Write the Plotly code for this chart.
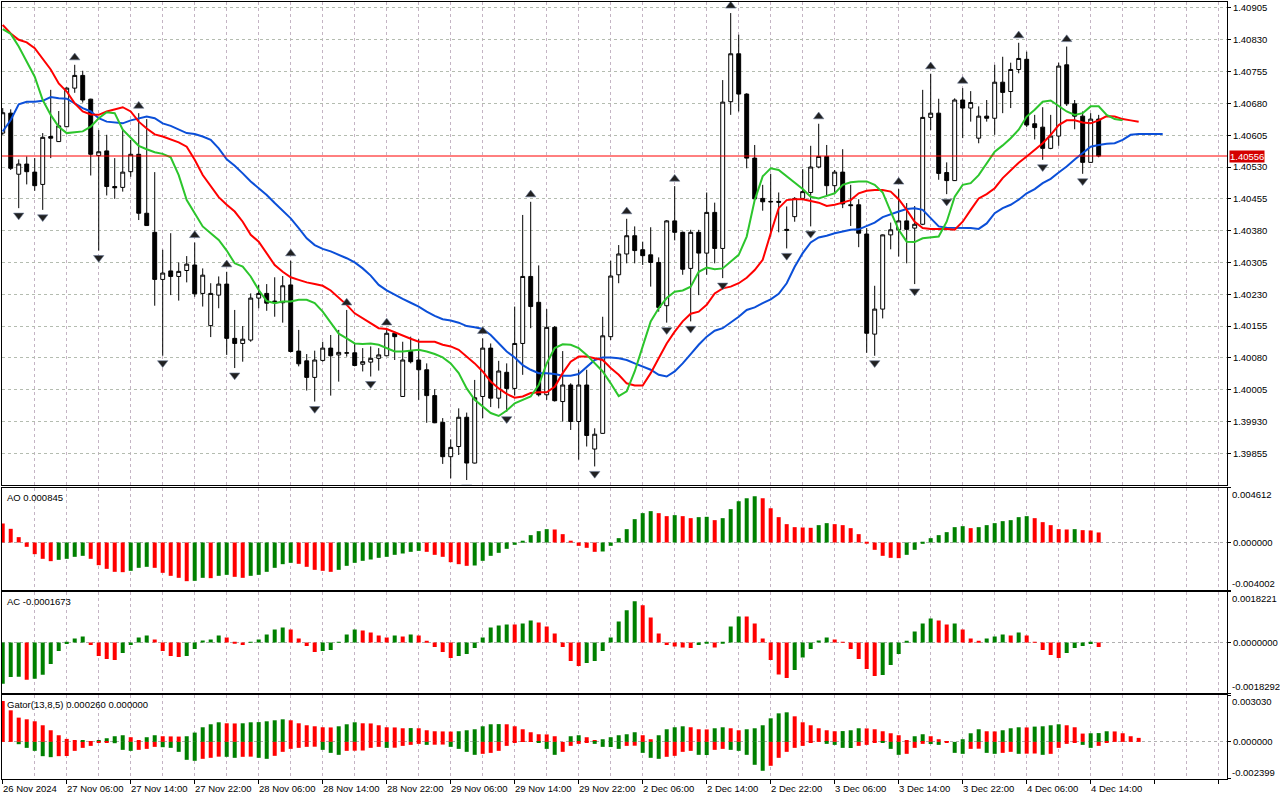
import plotly.graph_objects as go
from plotly.subplots import make_subplots

# hourly candles, 26 Nov 22:00 .. 4 Dec 15:00
opens = [
    1.40610, 1.40657, 1.40513, 1.40537, 1.40518, 1.40489, 1.40602, 1.40590, 1.40625, 1.40716,
    1.40746, 1.40690, 1.40557, 1.40568, 1.40484, 1.40482, 1.40519, 1.40560, 1.40421, 1.40376,
    1.40265, 1.40285, 1.40272, 1.40286, 1.40299, 1.40232, 1.40156, 1.40228, 1.40254, 1.40126,
    1.40114, 1.40122, 1.40221, 1.40232, 1.40214, 1.40210, 1.40252, 1.40096, 1.40073, 1.40034,
    1.40074, 1.40103, 1.40087, 1.40091, 1.40092, 1.40065, 1.40070, 1.40079, 1.40085, 1.40138,
    1.39989, 1.40095, 1.40075, 1.40052, 1.39991, 1.39928, 1.39847, 1.39871, 1.39940, 1.39832,
    1.39989, 1.40103, 1.39985, 1.40046, 1.40008, 1.40114, 1.40272, 1.40211, 1.39993, 1.40152,
    1.39977, 1.40016, 1.39930, 1.40016, 1.39865, 1.39902, 1.40130, 1.40276, 1.40325, 1.40368,
    1.40335, 1.40323, 1.40305, 1.40203, 1.40403, 1.40376, 1.40291, 1.40376, 1.40327, 1.40423,
    1.40338, 1.40684, 1.40797, 1.40702, 1.40551, 1.40456, 1.40449, 1.40449, 1.40383, 1.40413,
    1.40456, 1.40470, 1.40530, 1.40555, 1.40486, 1.40518, 1.40441, 1.40441, 1.40372, 1.40136,
    1.40195, 1.40370, 1.40382, 1.40403, 1.40386, 1.40395, 1.40647, 1.40657, 1.40517, 1.40498,
    1.40688, 1.40669, 1.40598, 1.40650, 1.40645, 1.40730, 1.40708, 1.40760, 1.40784, 1.40632,
    1.40624, 1.40574, 1.40603, 1.40771, 1.40679, 1.40650, 1.40541, 1.40643,
]
highs = [
    1.40669, 1.40666, 1.40548, 1.40555, 1.40551, 1.40610, 1.40712, 1.40662, 1.40718, 1.40771,
    1.40757, 1.40691, 1.40617, 1.40606, 1.40551, 1.40620, 1.40594, 1.40657, 1.40643, 1.40518,
    1.40335, 1.40374, 1.40305, 1.40320, 1.40352, 1.40291, 1.40256, 1.40272, 1.40283, 1.40193,
    1.40155, 1.40232, 1.40252, 1.40254, 1.40270, 1.40273, 1.40309, 1.40146, 1.40089, 1.40097,
    1.40118, 1.40134, 1.40146, 1.40193, 1.40113, 1.40103, 1.40107, 1.40103, 1.40146, 1.40142,
    1.40118, 1.40130, 1.40124, 1.40067, 1.40006, 1.39938, 1.39888, 1.39961, 1.39951, 1.40028,
    1.40126, 1.40114, 1.40073, 1.40067, 1.40201, 1.40417, 1.40448, 1.40298, 1.40195, 1.40155,
    1.40096, 1.40020, 1.40052, 1.40052, 1.39914, 1.40177, 1.40309, 1.40346, 1.40408, 1.40390,
    1.40354, 1.40388, 1.40317, 1.40405, 1.40485, 1.40378, 1.40382, 1.40382, 1.40470, 1.40446,
    1.40735, 1.40893, 1.40842, 1.40704, 1.40582, 1.40488, 1.40514, 1.40470, 1.40437, 1.40459,
    1.40525, 1.40580, 1.40632, 1.40582, 1.40523, 1.40572, 1.40488, 1.40454, 1.40386, 1.40250,
    1.40371, 1.40399, 1.40478, 1.40445, 1.40438, 1.40712, 1.40750, 1.40691, 1.40541, 1.40692,
    1.40716, 1.40709, 1.40673, 1.40688, 1.40771, 1.40790, 1.40776, 1.40823, 1.40802, 1.40653,
    1.40671, 1.40653, 1.40776, 1.40814, 1.40688, 1.40661, 1.40657, 1.40653,
]
lows = [
    1.40606, 1.40523, 1.40433, 1.40489, 1.40474, 1.40429, 1.40551, 1.40589, 1.40624, 1.40705,
    1.40682, 1.40510, 1.40333, 1.40463, 1.40455, 1.40472, 1.40507, 1.40405, 1.40392, 1.40203,
    1.40085, 1.40228, 1.40215, 1.40258, 1.40224, 1.40201, 1.40129, 1.40197, 1.40087, 1.40056,
    1.40071, 1.40118, 1.40197, 1.40191, 1.40177, 1.40163, 1.40093, 1.40060, 1.40003, 1.39977,
    1.40071, 1.39991, 1.40024, 1.40083, 1.40060, 1.40048, 1.40036, 1.40050, 1.40084, 1.40075,
    1.39988, 1.40067, 1.39981, 1.39927, 1.39926, 1.39830, 1.39796, 1.39851, 1.39792, 1.39831,
    1.39938, 1.39964, 1.39961, 1.39953, 1.39991, 1.40040, 1.40150, 1.39989, 1.39981, 1.39977,
    1.39930, 1.39910, 1.39840, 1.39871, 1.39824, 1.39901, 1.40122, 1.40256, 1.40303, 1.40303,
    1.40299, 1.40248, 1.40189, 1.40163, 1.40357, 1.40276, 1.40166, 1.40228, 1.40276, 1.40303,
    1.40268, 1.40653, 1.40661, 1.40527, 1.40452, 1.40427, 1.40366, 1.40376, 1.40338, 1.40401,
    1.40452, 1.40390, 1.40527, 1.40464, 1.40468, 1.40433, 1.40391, 1.40341, 1.40092, 1.40085,
    1.40173, 1.40336, 1.40319, 1.40303, 1.40254, 1.40393, 1.40617, 1.40500, 1.40466, 1.40497,
    1.40598, 1.40637, 1.40586, 1.40637, 1.40606, 1.40657, 1.40669, 1.40751, 1.40624, 1.40595,
    1.40547, 1.40572, 1.40580, 1.40674, 1.40619, 1.40514, 1.40540, 1.40553,
]
closes = [
    1.40658, 1.40527, 1.40537, 1.40519, 1.40486, 1.40600, 1.40598, 1.40627, 1.40716, 1.40746,
    1.40688, 1.40560, 1.40566, 1.40484, 1.40481, 1.40518, 1.40560, 1.40421, 1.40392, 1.40265,
    1.40280, 1.40272, 1.40284, 1.40301, 1.40231, 1.40275, 1.40232, 1.40254, 1.40126, 1.40114,
    1.40124, 1.40221, 1.40232, 1.40209, 1.40210, 1.40250, 1.40095, 1.40066, 1.40034, 1.40075,
    1.40103, 1.40085, 1.40093, 1.40092, 1.40062, 1.40071, 1.40079, 1.40087, 1.40138, 1.40130,
    1.40075, 1.40071, 1.40052, 1.39991, 1.39927, 1.39847, 1.39869, 1.39940, 1.39832, 1.39986,
    1.40103, 1.39985, 1.40049, 1.40008, 1.40114, 1.40272, 1.40201, 1.39993, 1.40152, 1.39979,
    1.40016, 1.39930, 1.40016, 1.39897, 1.39900, 1.40132, 1.40273, 1.40325, 1.40368, 1.40333,
    1.40321, 1.40305, 1.40199, 1.40403, 1.40376, 1.40289, 1.40376, 1.40327, 1.40423, 1.40338,
    1.40683, 1.40797, 1.40702, 1.40551, 1.40455, 1.40448, 1.40448, 1.40447, 1.40381, 1.40456,
    1.40472, 1.40530, 1.40555, 1.40486, 1.40518, 1.40443, 1.40439, 1.40374, 1.40138, 1.40195,
    1.40370, 1.40382, 1.40403, 1.40383, 1.40395, 1.40647, 1.40657, 1.40515, 1.40498, 1.40688,
    1.40669, 1.40682, 1.40650, 1.40645, 1.40730, 1.40706, 1.40760, 1.40786, 1.40629, 1.40623,
    1.40574, 1.40603, 1.40768, 1.40679, 1.40650, 1.40541, 1.40643, 1.40556,
]

# Alligator lines (already shifted forward 8 / 5 / 3 bars)
jaw = [
    1.40614, 1.40641, 1.40678, 1.40684, 1.40684, 1.40686, 1.40695, 1.40692, 1.40691, 1.40680,
    1.40669, 1.40661, 1.40645, 1.40637, 1.40635, 1.40633, 1.40640, 1.40645, 1.40649, 1.40645,
    1.40633, 1.40627, 1.40618, 1.40610, 1.40608, 1.40602, 1.40594, 1.40574, 1.40548, 1.40533,
    1.40515, 1.40496, 1.40480, 1.40464, 1.40445, 1.40427, 1.40409, 1.40386, 1.40362, 1.40346,
    1.40337, 1.40331, 1.40323, 1.40315, 1.40305, 1.40291, 1.40274, 1.40252, 1.40239, 1.40228,
    1.40219, 1.40210, 1.40201, 1.40189, 1.40179, 1.40171, 1.40168, 1.40163, 1.40155, 1.40152,
    1.40148, 1.40134, 1.40114, 1.40095, 1.40081, 1.40063, 1.40052, 1.40044, 1.40044, 1.40042,
    1.40038, 1.40038, 1.40042, 1.40059, 1.40075, 1.40081, 1.40081, 1.40079, 1.40075, 1.40067,
    1.40059, 1.40052, 1.40040, 1.40036, 1.40048, 1.40067, 1.40089, 1.40111, 1.40130, 1.40144,
    1.40150, 1.40163, 1.40177, 1.40193, 1.40199, 1.40209, 1.40218, 1.40231, 1.40256, 1.40295,
    1.40327, 1.40352, 1.40364, 1.40368, 1.40374, 1.40378, 1.40382, 1.40383, 1.40391, 1.40399,
    1.40412, 1.40419, 1.40425, 1.40431, 1.40433, 1.40429, 1.40409, 1.40390, 1.40387, 1.40387,
    1.40386, 1.40386, 1.40384, 1.40397, 1.40421, 1.40433, 1.40441, 1.40453, 1.40468, 1.40478,
    1.40492, 1.40502, 1.40517, 1.40531, 1.40548, 1.40564, 1.40578, 1.40582, 1.40585, 1.40586,
    1.40594, 1.40606, 1.40608, 1.40608, 1.40608, 1.40608,
]
teeth = [
    1.40865, 1.40845, 1.40830, 1.40824, 1.40810, 1.40786, 1.40760, 1.40727, 1.40708, 1.40680,
    1.40661, 1.40654, 1.40653, 1.40661, 1.40666, 1.40671, 1.40661, 1.40637, 1.40621, 1.40607,
    1.40602, 1.40595, 1.40588, 1.40578, 1.40547, 1.40511, 1.40484, 1.40459, 1.40441, 1.40425,
    1.40401, 1.40370, 1.40354, 1.40327, 1.40299, 1.40283, 1.40270, 1.40264, 1.40258, 1.40254,
    1.40250, 1.40239, 1.40223, 1.40205, 1.40185, 1.40173, 1.40162, 1.40150, 1.40148, 1.40140,
    1.40133, 1.40125, 1.40118, 1.40118, 1.40118, 1.40111, 1.40107, 1.40099, 1.40083, 1.40067,
    1.40048, 1.40024, 1.40008, 1.39995, 1.39986, 1.39989, 1.39997, 1.39999, 1.39999, 1.40012,
    1.40044, 1.40071, 1.40083, 1.40083, 1.40079, 1.40075, 1.40056, 1.40040, 1.40020, 1.40015,
    1.40015, 1.40044, 1.40079, 1.40114, 1.40142, 1.40166, 1.40184, 1.40189, 1.40205, 1.40232,
    1.40244, 1.40248, 1.40256, 1.40269, 1.40287, 1.40311, 1.40374, 1.40433, 1.40452, 1.40454,
    1.40454, 1.40450, 1.40446, 1.40438, 1.40441, 1.40446, 1.40452, 1.40468, 1.40474, 1.40476,
    1.40476, 1.40472, 1.40454, 1.40429, 1.40401, 1.40386, 1.40384, 1.40384, 1.40384, 1.40382,
    1.40401, 1.40429, 1.40456, 1.40466, 1.40480, 1.40504, 1.40523, 1.40540, 1.40555, 1.40570,
    1.40586, 1.40606, 1.40629, 1.40640, 1.40640, 1.40635, 1.40633, 1.40640, 1.40650, 1.40649,
    1.40643, 1.40640, 1.40637,
]
lips = [
    1.40855, 1.40844, 1.40814, 1.40779, 1.40743, 1.40688, 1.40653, 1.40625, 1.40610, 1.40612,
    1.40614, 1.40625, 1.40645, 1.40659, 1.40657, 1.40618, 1.40598, 1.40580, 1.40572, 1.40565,
    1.40561, 1.40553, 1.40511, 1.40452, 1.40421, 1.40390, 1.40374, 1.40358, 1.40333, 1.40303,
    1.40295, 1.40272, 1.40240, 1.40214, 1.40209, 1.40213, 1.40213, 1.40217, 1.40217, 1.40209,
    1.40189, 1.40162, 1.40137, 1.40126, 1.40114, 1.40113, 1.40114, 1.40111, 1.40103, 1.40095,
    1.40095, 1.40097, 1.40099, 1.40095, 1.40089, 1.40081, 1.40067, 1.40044, 1.40008, 1.39981,
    1.39965, 1.39950, 1.39943, 1.39956, 1.39973, 1.39981, 1.39989, 1.40016, 1.40067, 1.40103,
    1.40112, 1.40111, 1.40103, 1.40087, 1.40067, 1.40048, 1.40020, 1.39990, 1.40001, 1.40048,
    1.40107, 1.40166, 1.40197, 1.40221, 1.40236, 1.40239, 1.40248, 1.40283, 1.40293, 1.40289,
    1.40291, 1.40307, 1.40323, 1.40366, 1.40452, 1.40508, 1.40527, 1.40523, 1.40508, 1.40492,
    1.40478, 1.40460, 1.40456, 1.40462, 1.40468, 1.40488, 1.40494, 1.40496, 1.40496, 1.40488,
    1.40470, 1.40425, 1.40382, 1.40354, 1.40353, 1.40362, 1.40364, 1.40366, 1.40401, 1.40460,
    1.40488, 1.40492, 1.40511, 1.40540, 1.40566, 1.40581, 1.40598, 1.40618, 1.40649, 1.40665,
    1.40684, 1.40687, 1.40674, 1.40661, 1.40653, 1.40657, 1.40673, 1.40673, 1.40653, 1.40643,
    1.40640,
]

# bars carrying a fractal
fractal_up = [9, 17, 24, 28, 36, 43, 48, 60, 66, 78, 84, 91, 102, 112, 116, 120, 127, 133]
fractal_down = [2, 5, 12, 20, 29, 39, 46, 58, 63, 74, 83, 86, 90, 98, 101, 109, 114, 118, 130, 135]

# Awesome Oscillator, units of 1e-6
ao_e6 = [
    1600, 1151, 449, -365, -982, -1375, -1572, -1460, -1375, -1207,
    -1123, -1375, -1909, -2218, -2470, -2498, -2386, -2133, -2049, -2133,
    -2554, -2807, -2975, -3256, -3228, -2975, -3003, -2807, -2723, -2891,
    -2975, -2807, -2723, -2470, -2133, -1825, -1712, -1796, -2049, -2302,
    -2386, -2470, -2302, -1965, -1712, -1544, -1432, -1291, -1207, -1039,
    -926, -786, -702, -786, -1039, -1207, -1656, -1825, -1965, -1937,
    -1544, -1123, -870, -533, -196, 112, 618, 954, 1123, 1095,
    702, 112, -281, -449, -786, -758, -281, 365, 1123, 1965,
    2470, 2639, 2470, 2218, 2302, 2218, 2049, 2133, 2161, 1881,
    2049, 2807, 3481, 3733, 3902, 3733, 2891, 2133, 1544, 1291,
    1263, 1235, 1460, 1628, 1544, 1460, 1207, 702, -28, -618,
    -1123, -1291, -1319, -1039, -618, -112, 365, 618, 870, 1291,
    1375, 1207, 1291, 1460, 1628, 1796, 1881, 2133, 2218, 2049,
    1712, 1460, 1123, 1095, 1123, 1039, 1011, 845,
]
# Accelerator Oscillator, units of 1e-7
ac_e7 = [
    -14855, -12459, -12339, -13418, -13058, -11621, -7787, -3115, -599, 1438,
    2156, -958, -4912, -5990, -6349, -3834, -958, 1797, 2516, 1078,
    -3115, -4912, -5271, -4912, -2396, 719, 1078, 2516, 1797, -120,
    -958, 60, 1078, 2875, 4672, 5391, 4672, 1438, -1318, -3474,
    -3115, -2755, 120, 2875, 4672, 4313, 3594, 2516, 1797, 2516,
    2156, 2875, 2516, 359, -1677, -3474, -5631, -4912, -4193, -2037,
    1797, 5391, 6110, 6469, 6409, 6829, 7907, 7188, 5750, 3235,
    -1677, -6709, -8506, -7428, -6709, -3115, 1797, 7547, 11501, 14735,
    13298, 8985, 3235, -958, -1438, -1797, -2037, -958, -120, -1797,
    -240, 5750, 9344, 9285, 6829, 1438, -6349, -11501, -12819, -9943,
    -5391, -2396, 719, 1797, 1078, 36, -2396, -5990, -9584, -12100,
    -11740, -8146, -4193, 359, 3953, 6829, 8626, 7907, 6469, 6829,
    4672, 1438, 359, 1438, 2156, 2875, 2516, 3594, 2516, -36,
    -2755, -4552, -5631, -3834, -2037, -1318, -599, -1673,
]
# Gator oscillator, units of 1e-6 (upper |jaw-teeth|, lower |teeth-lips|)
gator_up_e6 = [
    2641, 2040, 1567, 1460, 1331, 1074, 751, 429, 193, 86,
    107, 21, 107, 236, 365, 429, 301, 107, 301, 429,
    365, 354, 344, 365, 601, 945, 1138, 1267, 1202, 1192,
    1202, 1267, 1277, 1331, 1396, 1460, 1396, 1202, 1074, 1009,
    945, 934, 1009, 1138, 1267, 1202, 1192, 1074, 945, 934,
    880, 891, 880, 751, 687, 676, 666, 687, 751, 816,
    1009, 1138, 1149, 1138, 1009, 816, 623, 494, 483, 365,
    0, 365, 429, 301, 107, 172, 301, 429, 494, 623,
    429, 172, 429, 816, 945, 1009, 945, 816, 805, 880,
    945, 880, 751, 816, 880, 1074, 1524, 1846, 1911, 1653,
    1267, 1074, 880, 751, 687, 698, 751, 880, 870, 816,
    687, 558, 429, 107, 365, 494, 365, 172, 43, 0,
    172, 558, 816, 687, 676, 751, 880, 945, 934, 988,
    1009, 1074, 1138, 1074, 945, 537, 558, 569, 687, 676,
    558, 365, 260,
]
gator_dn_e6 = [
    0, 0, 150, 386, 580, 923, 988, 923, 912, 580,
    386, 258, 64, 21, 86, 515, 580, 515, 451, 322,
    344, 386, 644, 1159, 1224, 1095, 1031, 955, 966, 1031,
    966, 955, 1031, 1095, 902, 644, 451, 386, 322, 311,
    515, 709, 837, 580, 569, 558, 386, 322, 386, 376,
    258, 193, 129, 193, 182, 172, 322, 451, 644, 837,
    773, 709, 580, 258, 11, 6, 4, 64, 451, 837,
    644, 258, 129, 11, 129, 322, 333, 451, 258, 247,
    709, 1031, 1095, 966, 902, 644, 580, 837, 848, 515,
    451, 515, 580, 837, 1481, 1868, 1546, 1031, 644, 386,
    258, 64, 0, 129, 193, 386, 397, 258, 193, 11,
    64, 451, 837, 773, 386, 129, 140, 193, 64, 709,
    773, 451, 440, 709, 773, 709, 644, 773, 762, 751,
    837, 773, 386, 129, 64, 193, 386, 258, 11,
]

price_ticks = [1.39855, 1.39930, 1.40005, 1.40080, 1.40155, 1.40230, 1.40305, 1.40380,
               1.40455, 1.40530, 1.40605, 1.40680, 1.40755, 1.40830, 1.40905]
date_idx = [0, 8, 16, 24, 32, 40, 48, 56, 64, 72, 80, 88, 96, 104, 112, 120, 128, 136]
date_labels = ["26 Nov 2024", "27 Nov 06:00", "27 Nov 14:00", "27 Nov 22:00", "28 Nov 06:00",
               "28 Nov 14:00", "28 Nov 22:00", "29 Nov 06:00", "29 Nov 14:00", "29 Nov 22:00",
               "2 Dec 06:00", "2 Dec 14:00", "2 Dec 22:00", "3 Dec 06:00", "3 Dec 14:00",
               "3 Dec 22:00", "4 Dec 06:00", "4 Dec 14:00"]
ao_range = [-0.004002, 0.004612]
ac_range = [-0.0018292, 0.0018221]
gator_range = [-0.002399, 0.003030]

ao = [v * 1e-6 for v in ao_e6]
ac = [v * 1e-7 for v in ac_e7]
gator_up = [v * 1e-6 for v in gator_up_e6]
gator_dn = [-v * 1e-6 for v in gator_dn_e6]

GREEN = "#008000"
RED = "#ff0000"
FONT = "Liberation Sans"
GRID_V = "#c4b4c4"
GRID_H = "#b4bcb0"
FRACTAL_PAD = 0.00017


def trend_colors(values, first, by_size=False):
    # green when the bar grows against the previous one, red when it shrinks
    vals = [abs(v) for v in values] if by_size else values
    colors = [first]
    for prev, cur in zip(vals[:-1], vals[1:]):
        if cur > prev:
            colors.append(GREEN)
        elif cur < prev:
            colors.append(RED)
        else:
            colors.append(colors[-1])
    return colors


fig = make_subplots(rows=4, cols=1, shared_xaxes=True, vertical_spacing=0.0)

fig.add_trace(go.Candlestick(
    x=list(range(len(closes))), open=opens, high=highs, low=lows, close=closes,
    increasing=dict(line=dict(color="black", width=1), fillcolor="white"),
    decreasing=dict(line=dict(color="black", width=1), fillcolor="black"),
    whiskerwidth=0, hoverinfo="skip"), row=1, col=1)

for series, color in [(jaw, "#0b4fd8"), (teeth, "#ff0000"), (lips, "#2cc52c")]:
    fig.add_trace(go.Scatter(x=list(range(len(series))), y=series, mode="lines",
                             line=dict(color=color, width=2), hoverinfo="skip"), row=1, col=1)

fig.add_trace(go.Scatter(
    x=fractal_up, y=[highs[k] + FRACTAL_PAD for k in fractal_up], mode="markers",
    marker=dict(symbol="triangle-up", size=9, color="#202020",
                line=dict(color="#6a7896", width=0.6)),
    hoverinfo="skip"), row=1, col=1)
fig.add_trace(go.Scatter(
    x=fractal_down, y=[lows[k] - FRACTAL_PAD for k in fractal_down], mode="markers",
    marker=dict(symbol="triangle-down", size=9, color="#202020",
                line=dict(color="#6a7896", width=0.6)),
    hoverinfo="skip"), row=1, col=1)

fig.add_hline(y=closes[-1], line=dict(color="#ff0000", width=1), row=1, col=1)

fig.add_trace(go.Bar(x=list(range(len(ao))), y=ao, width=0.5,
                     marker=dict(color=trend_colors(ao, RED), line=dict(width=0))), row=2, col=1)
fig.add_trace(go.Bar(x=list(range(len(ac))), y=ac, width=0.5,
                     marker=dict(color=trend_colors(ac, GREEN), line=dict(width=0))), row=3, col=1)
fig.add_trace(go.Bar(x=list(range(len(gator_up))), y=gator_up, width=0.5,
                     marker=dict(color=trend_colors(gator_up, RED), line=dict(width=0))), row=4, col=1)
fig.add_trace(go.Bar(x=list(range(len(gator_dn))), y=gator_dn, width=0.5,
                     marker=dict(color=trend_colors(gator_dn, RED, by_size=True), line=dict(width=0))),
              row=4, col=1)

axis_line = dict(showline=True, mirror=True, linecolor="black", linewidth=1, zeroline=False)
fig.update_xaxes(
    range=[-0.09, 153.04], tickmode="array", tickvals=list(range(0, 153, 8)),
    ticktext=[""] * len(range(0, 153, 8)), showgrid=True, gridcolor=GRID_V, griddash="3px,3px",
    minor=dict(tick0=0, dtick=4, showgrid=True, gridcolor=GRID_V, griddash="3px,3px"),
    ticks="", **axis_line)
fig.update_xaxes(ticks="outside", ticklen=4, tickcolor="black", row=4, col=1)
fig.update_xaxes(rangeslider_visible=False, row=1, col=1)

side_axis = dict(side="right", tickmode="array", ticks="outside", ticklen=3, tickcolor="black",
                 showgrid=True, griddash="3px,3px", **axis_line)
fig.update_layout(
    width=1280, height=800, margin=dict(l=2, r=53, t=2, b=21, autoexpand=False),
    paper_bgcolor="white", plot_bgcolor="white", showlegend=False,
    hovermode=False, barmode="overlay",
    font=dict(family=FONT, size=9.5, color="black"),
    yaxis=dict(domain=[0.3784, 1.0], range=[1.397803, 1.409191],
               tickvals=price_ticks, tickformat=".5f", gridcolor=GRID_H, **side_axis),
    yaxis2=dict(domain=[0.2432, 0.3749], range=ao_range,
                tickvals=[ao_range[0], 0, ao_range[1]], ticktext=["", "0.000000", ""],
                gridcolor="#b0b0b0", **side_axis),
    yaxis3=dict(domain=[0.1103, 0.2411], range=ac_range,
                tickvals=[ac_range[0], 0, ac_range[1]], ticktext=["", "0.0000000", ""],
                gridcolor="#b0b0b0", **side_axis),
    yaxis4=dict(domain=[0.0, 0.1081], range=gator_range,
                tickvals=[gator_range[0], 0, gator_range[1]], ticktext=["", "0.000000", ""],
                gridcolor="#b0b0b0", **side_axis),
)

# time labels, left-aligned on their tick like the terminal draws them
for k, label in zip(date_idx, date_labels):
    fig.add_annotation(x=k, xref="x4", y=0, yref="paper", text=label, showarrow=False,
                       xanchor="left", yanchor="top", xshift=-2, yshift=-2)

# current price badge
fig.add_annotation(x=1, xref="paper", y=closes[-1], yref="y", text=f"{closes[-1]:.5f}",
                   showarrow=False, xanchor="left", xshift=2, font=dict(color="white"),
                   bgcolor="#d40000", borderpad=0)

# min / max labels of the indicator windows sit inside the window edges
for yref, lo, hi, lo_txt, hi_txt in [("y2", ao_range[0], ao_range[1], "-0.004002", "0.004612"),
                                     ("y3", ac_range[0], ac_range[1], "-0.0018292", "0.0018221"),
                                     ("y4", gator_range[0], gator_range[1], "-0.002399", "0.003030")]:
    fig.add_annotation(x=1, xref="paper", y=hi, yref=yref, text=hi_txt, showarrow=False,
                       xanchor="left", yanchor="top", xshift=3, yshift=1)
    fig.add_annotation(x=1, xref="paper", y=lo, yref=yref, text=lo_txt, showarrow=False,
                       xanchor="left", yanchor="bottom", xshift=3, yshift=-1)

# indicator captions
for yref, caption in [("y2 domain", "AO 0.000845"), ("y3 domain", "AC -0.0001673"),
                      ("y4 domain", "Gator(13,8,5) 0.000260 0.000000")]:
    fig.add_annotation(x=0, xref="x domain", y=1, yref=yref, text=caption, showarrow=False,
                       xanchor="left", yanchor="top", xshift=3, yshift=-2)

# the page body has a default 8px margin; drop it so the chart fills the window
fig.write_html("out.html", config={"displayModeBar": False},
               post_script="document.body.style.margin='0';")
